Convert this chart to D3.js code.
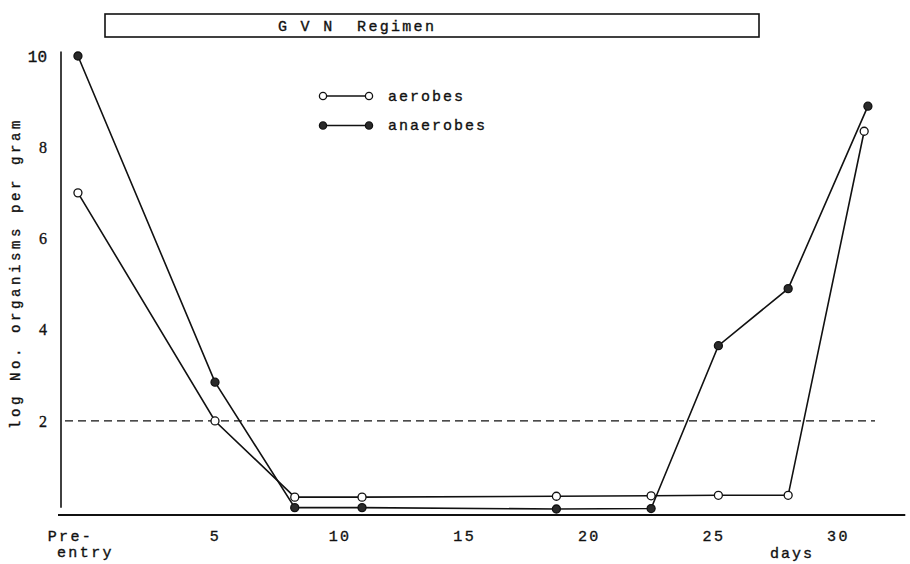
<!DOCTYPE html>
<html>
 <head>
  <meta charset="utf-8">
  <script type="text/javascript" src="https://cdn.jsdelivr.net/npm/d3@7/dist/d3.min.js"></script>
  <style>
   body { margin: 0; background: #ffffff; }
   text { font-family: "Liberation Mono", "DejaVu Sans Mono", monospace; fill: #111111; stroke: #111111; stroke-width: 0.35px; }
  </style>
  <script type="text/javascript">
  // days after entry; pre-entry sample is placed just before day 0
  var aerobeDays = [-0.5, 5, 8.2, 10.9, 18.7, 22.5, 25.2, 28, 31.05];
  var aerobeLog = [7.0, 2.0, 0.33, 0.33, 0.35, 0.36, 0.37, 0.37, 8.35];
  var anaerobeDays = [-0.5, 5, 8.2, 10.9, 18.7, 22.5, 25.2, 28, 31.2];
  var anaerobeLog = [10.0, 2.85, 0.1, 0.1, 0.07, 0.08, 3.65, 4.9, 8.9];
  var xTicks = [-0.5, 5, 10, 15, 20, 25, 30];
  var yTicks = [2, 4, 6, 8, 10];
  var seriesNames = ["aerobes", "anaerobes"];
  var threshold = 2;
  var title = "G V N  Regimen";

  function myFunction(){
   var width = 910, height = 564;
   var id = "chart";
   addSvg(width, height, id);
   var svg = d3.select("#" + id);

   var x = d3.scaleLinear().domain([0, 30]).range([90.4, 838]);
   var y = d3.scaleLinear().domain([0, 10]).range([512.2, 56]);

   // title box
   svg.append("rect")
      .attr("x", 105).attr("y", 14).attr("width", 654).attr("height", 23)
      .attr("fill", "none").attr("stroke", "#111").attr("stroke-width", 1.6);
   svg.append("text")
      .attr("x", 278).attr("y", 30.5)
      .style("font-size", "15px").style("letter-spacing", "2.3px")
      .attr("xml:space", "preserve")
      .text(title);

   // axes
   var xAxis = d3.axisBottom(x)
      .tickValues(xTicks)
      .tickSize(0).tickPadding(15)
      .tickFormat(function(d){ return d < 0 ? "" : d; });
   var gx = svg.append("g").attr("transform", "translate(0,515)").call(xAxis);
   gx.select(".domain").remove();
   gx.selectAll("text")
      .style("font-size", "15px").style("letter-spacing", "2.4px")
      .style("font-family", "'Liberation Mono', monospace");
   var pre = gx.selectAll(".tick").filter(function(d){ return d < 0; }).select("text");
   pre.append("tspan").attr("x", -8).attr("dy", "0.71em").text("Pre-");
   pre.append("tspan").attr("x", 7).attr("dy", "1.1em").text("entry");
   pre.attr("dy", null);
   svg.append("line")
      .attr("x1", x(-1.3)).attr("x2", x(32.7))
      .attr("y1", 515).attr("y2", 515)
      .attr("stroke", "#111").attr("stroke-width", 1.8);

   var yAxis = d3.axisLeft(y)
      .tickValues(yTicks)
      .tickSize(0).tickPadding(14);
   var gy = svg.append("g").attr("transform", "translate(61,0)").call(yAxis);
   gy.select(".domain").remove();
   gy.selectAll("text")
      .style("font-size", "16px")
      .style("font-family", function(d){ return d === 10 ? "'Liberation Mono', monospace" : "'Liberation Serif', serif"; });
   svg.append("line")
      .attr("x1", 61).attr("x2", 61)
      .attr("y1", y(10.1)).attr("y2", y(0.1))
      .attr("stroke", "#111").attr("stroke-width", 1.6);

   svg.append("text")
      .attr("transform", "translate(20,273) rotate(-90)")
      .attr("text-anchor", "middle")
      .style("font-size", "14px").style("letter-spacing", "3.6px")
      .text("log No. organisms per gram");

   svg.append("text")
      .attr("x", 792).attr("y", 558).attr("text-anchor", "middle")
      .style("font-size", "15px").style("letter-spacing", "2px")
      .text("days");

   // threshold
   svg.append("line")
      .attr("x1", 65).attr("x2", 875)
      .attr("y1", y(threshold)).attr("y2", y(threshold))
      .attr("stroke", "#111").attr("stroke-width", 1.3)
      .attr("stroke-dasharray", "8,5");

   // series
   var line = d3.line().x(function(d){ return x(d[0]); }).y(function(d){ return y(d[1]); });
   var aer = d3.zip(aerobeDays, aerobeLog);
   var ana = d3.zip(anaerobeDays, anaerobeLog);
   addSeries(svg, ana, line, x, y, true);
   addSeries(svg, aer, line, x, y, false);

   // legend
   var lg = svg.append("g");
   seriesNames.forEach(function(name, i){
     var ly = 96 + i * 29.5;
     var filled = i === 1;
     lg.append("line").attr("x1", 323).attr("x2", 369).attr("y1", ly).attr("y2", ly)
       .attr("stroke", "#111").attr("stroke-width", 1.4);
     [323, 369].forEach(function(cx){
       lg.append("circle").attr("cx", cx).attr("cy", ly).attr("r", 3.6)
         .attr("fill", filled ? "#2a2a2a" : "#fff").attr("stroke", "#111").attr("stroke-width", 1.3);
     });
     lg.append("text").attr("x", 388).attr("y", ly + 4.5)
       .style("font-size", "15px").style("letter-spacing", "2px")
       .text(name);
   });
  }

  function addSvg(width, height, id){
   d3.select("body").append("svg")
      .attr("width", width)
      .attr("height", height)
      .attr("id", id);
  }

  function addSeries(svg, data, line, x, y, filled){
   svg.append("path").datum(data)
      .attr("d", line)
      .attr("fill", "none").attr("stroke", "#111").attr("stroke-width", 1.6);
   svg.append("g").selectAll("circle").data(data).join("circle")
      .attr("cx", function(d){ return x(d[0]); })
      .attr("cy", function(d){ return y(d[1]); })
      .attr("r", 4)
      .attr("fill", filled ? "#2a2a2a" : "#ffffff")
      .attr("stroke", "#111").attr("stroke-width", 1.3);
  }
  </script>
 </head>
 <body onload="myFunction()">
 </body>
</html>
